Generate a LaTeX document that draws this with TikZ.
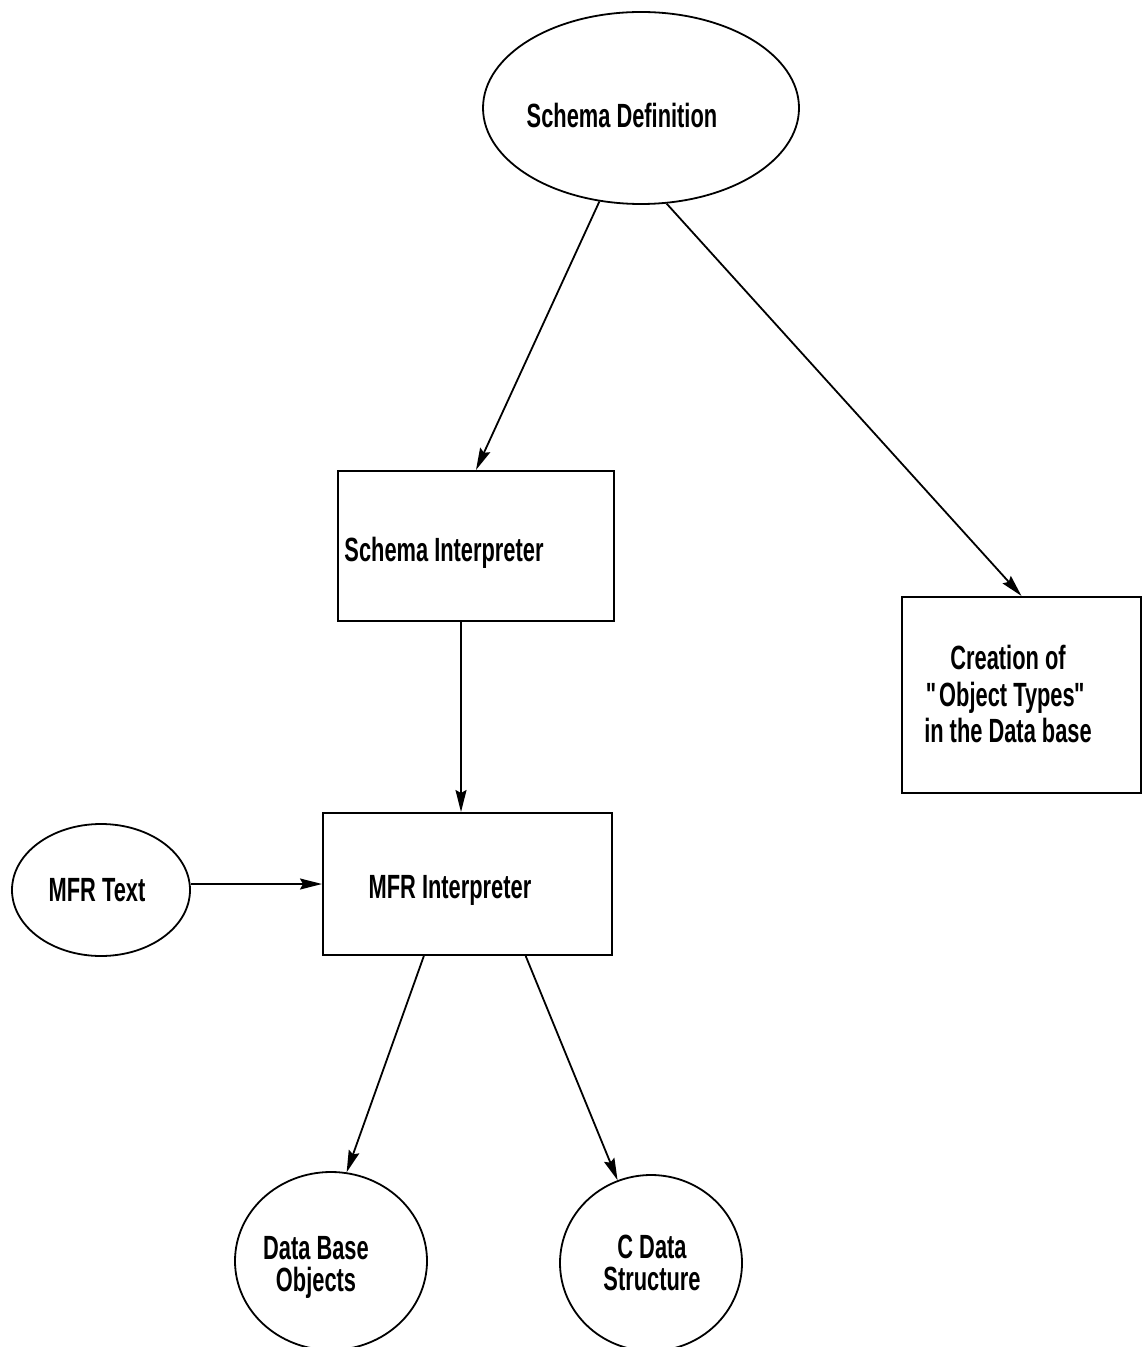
\documentclass[tikz,border=0pt]{standalone}
\usepackage{fontspec}
\setmainfont[FakeStretch=0.65]{Liberation Sans}
\usetikzlibrary{shapes.geometric,arrows.meta,calc}

\tikzset{
  lbl/.style={font=\fontsize{16.8}{16}\selectfont\bfseries, align=center, inner sep=0pt},
  widelbl/.style={lbl, font=\fontsize{16.8}{18.2}\selectfont\bfseries},
  oval/.style={draw, ellipse, line width=0.9pt, inner sep=0pt},
  blk/.style={draw, rectangle, line width=1pt, inner sep=0pt},
  flow/.style={line width=0.9pt, -{Stealth[length=11pt,width=5.5pt,inset=1.5pt]}}
}

\begin{document}
\begin{tikzpicture}[x=0.5pt, y=-0.5pt]
  \useasboundingbox (0,0) rectangle (1143,1347);

  % ovals (sizes in pt = half of picture units)
  \node[oval, minimum width=158pt, minimum height=96pt] (sd)  at (641,108) {};
  \node[oval, minimum width=89pt,  minimum height=66pt] (mt)  at (101,890) {};
  \node[oval, minimum width=96pt,  minimum height=89pt] (dbo) at (331,1261) {};
  \node[oval, minimum width=91pt,  minimum height=88pt] (cds) at (651,1263) {};

  % boxes
  \node[blk, minimum width=138pt, minimum height=75pt] (si)  at (476,546) {};
  \node[blk, minimum width=144.5pt, minimum height=71pt] (mfr) at (467.5,884) {};
  \node[blk, minimum width=119.5pt, minimum height=98pt] (cot) at (1021.5,695) {};

  % labels
  \node[lbl] (sdt)  at (622,115)  {Schema Definition};
  \node[lbl] (sit)  at (444,553)  {Schema Interpreter};
  \node[lbl] (mtt)  at (97,890)   {MFR Text};
  \node[lbl] (mfrt) at (450,890)  {MFR Interpreter};
  \node[widelbl] (cott) at (1008,694) {Creation of\\\textquotedbl\kern-1.3pt Object Types\kern-0.3pt\textquotedbl\\in the Data base};
  \node[lbl] (dbot) at (316,1267) {Data Base\\Objects};
  \node[lbl] (cdst) at (652,1263) {C Data\\Structure};

  % connectors
  \draw[flow] (sd.246.6) -- (si.north);
  \draw[flow] (sd.285.6) -- (cot.north);
  \draw[flow] ([xshift=-7.5pt]si.south) -- ([xshift=-7.5pt]si.south |- mfr.north);
  \draw[flow] (mfr.west -| mt.east) -- (mfr.west);
  \draw[flow] ($(mfr.south west)!0.35!(mfr.south east)$) -- (dbo.80);
  \draw[flow] ($(mfr.south west)!0.70!(mfr.south east)$) -- (cds.112);
\end{tikzpicture}
\end{document}
